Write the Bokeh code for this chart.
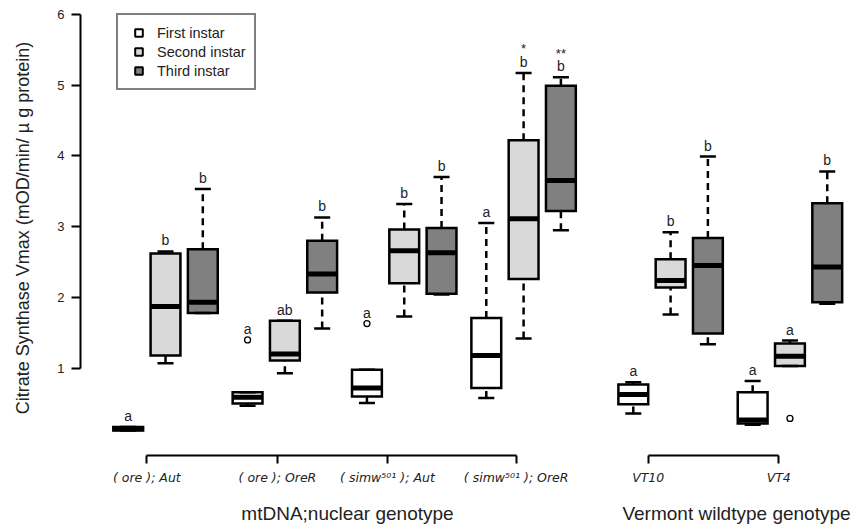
from bokeh.plotting import figure
from bokeh.layouts import row
from bokeh.models import ColumnDataSource, Range1d, FixedTicker, Legend, LegendItem
from bokeh.embed import file_html
from bokeh.resources import INLINE
from bokeh.core.properties import value

FONT = "Liberation Sans"
TICK_FONT = "DejaVu Sans"
instars = ["First instar", "Second instar", "Third instar"]
instar_fill = ["#ffffff", "#d9d9d9", "#808080"]

# ---- mtDNA;nuclear genotype panel ----
mt_labels = ["( ore ); Aut", "( ore ); OreR", "( simw\u2075\u2070\u00b9 ); Aut", "( simw\u2075\u2070\u00b9 ); OreR"]
mt_label_pos = [1.5, 5.0, 7.95, 11.4]
mt_pos = [1, 2, 3, 4.2, 5.2, 6.2, 7.4, 8.4, 9.4, 10.6, 11.6, 12.6]
mt_lo = [0.12, 1.07, 1.78, 0.47, 0.93, 1.56, 0.51, 1.73, 2.04, 0.58, 1.42, 2.95]
mt_q1 = [0.12, 1.18, 1.78, 0.50, 1.11, 2.07, 0.60, 2.20, 2.05, 0.72, 2.26, 3.22]
mt_med = [0.145, 1.87, 1.93, 0.59, 1.20, 2.33, 0.72, 2.66, 2.63, 1.18, 3.11, 3.65]
mt_q3 = [0.17, 2.62, 2.68, 0.66, 1.67, 2.80, 0.98, 2.96, 2.98, 1.71, 4.22, 4.99]
mt_hi = [0.17, 2.65, 3.53, 0.66, 1.67, 3.13, 0.98, 3.32, 3.70, 3.05, 5.17, 5.11]
mt_letters = ["a", "b", "b", "a", "ab", "b", "a", "b", "b", "a", "b", "b"]
mt_stars = ["", "", "", "", "", "", "", "", "", "", "*", "**"]
mt_out_pos = [4.2, 7.4]
mt_out_val = [1.40, 1.63]

# ---- Vermont wildtype genotype panel ----
vt_labels = ["VT10", "VT4"]
vt_label_pos = [1.4, 4.9]
vt_pos = [1, 2, 3, 4.2, 5.2, 6.2]
vt_lo = [0.36, 1.76, 1.34, 0.20, 1.03, 1.91]
vt_q1 = [0.49, 2.14, 1.49, 0.22, 1.03, 1.93]
vt_med = [0.63, 2.24, 2.45, 0.27, 1.17, 2.43]
vt_q3 = [0.77, 2.54, 2.84, 0.66, 1.35, 3.33]
vt_hi = [0.80, 2.92, 3.99, 0.82, 1.39, 3.78]
vt_letters = ["a", "b", "b", "a", "a", "b"]
vt_stars = ["", "", "", "", "", ""]
vt_out_pos = [5.2]
vt_out_val = [0.29]

BOX_W = 0.8
CAP_W = 0.43


def draw_panel(p, pos, lo, q1, med, q3, hi, letters, stars, out_pos, out_val):
    n = len(pos)
    fills = [instar_fill[i % 3] for i in range(n)]
    tops = []
    for i in range(n):
        vals = [hi[i]] + [v for xo, v in zip(out_pos, out_val) if xo == pos[i]]
        tops.append(max(vals))
    src = ColumnDataSource(dict(
        x=pos, lo=lo, q1=q1, med=med, q3=q3, hi=hi, fill=fills, top=tops,
        xl=[x - BOX_W / 2 for x in pos], xr=[x + BOX_W / 2 for x in pos],
        cl=[x - CAP_W / 2 for x in pos], cr=[x + CAP_W / 2 for x in pos],
        letter=letters, star=stars))
    p.segment(x0="x", y0="q3", x1="x", y1="hi", source=src, line_color="black",
              line_width=2.5, line_dash="7 5")
    p.segment(x0="x", y0="lo", x1="x", y1="q1", source=src, line_color="black",
              line_width=2.5, line_dash="7 5")
    p.vbar(x="x", width=BOX_W, bottom="q1", top="q3", source=src, fill_color="fill",
           line_color="black", line_width=2.5, line_join="miter")
    p.segment(x0="xl", y0="med", x1="xr", y1="med", source=src, line_color="black",
              line_width=5)
    p.segment(x0="cl", y0="hi", x1="cr", y1="hi", source=src, line_color="black", line_width=2.5)
    p.segment(x0="cl", y0="lo", x1="cr", y1="lo", source=src, line_color="black", line_width=2.5)
    osrc = ColumnDataSource(dict(x=out_pos, y=out_val))
    p.scatter(x="x", y="y", source=osrc, marker="circle", size=6, fill_color=None,
              line_color="black", line_width=1.3)
    p.text(x="x", y="top", text="letter", source=src, text_align="center",
           text_baseline="alphabetic", y_offset=-11, text_font=value(FONT),
           text_font_size="14px", text_color="#222222")
    p.text(x="x", y="top", text="star", source=src, text_align="center",
           text_baseline="alphabetic", y_offset=-24, text_font=value(FONT),
           text_font_size="13px", text_color="#222222")


def style_xaxis(p, ticks, labels, title):
    ax = p.xaxis[0]
    ax.ticker = FixedTicker(ticks=ticks)
    ax.major_label_overrides = {t: l for t, l in zip(ticks, labels)}
    ax.bounds = (min(ticks), max(ticks))
    ax.axis_line_width = 2
    ax.axis_line_color = "black"
    ax.major_tick_line_width = 2
    ax.major_tick_line_color = "black"
    ax.major_tick_in = 0
    ax.major_tick_out = 8
    ax.minor_tick_out = 0
    ax.minor_tick_in = 0
    ax.major_label_standoff = 6
    ax.major_label_text_font = TICK_FONT
    ax.major_label_text_font_style = "italic"
    ax.major_label_text_font_size = "12.5px"
    ax.major_label_text_color = "#222222"
    ax.axis_label = title
    ax.axis_label_standoff = 15
    ax.axis_label_text_font = FONT
    ax.axis_label_text_font_style = "normal"
    ax.axis_label_text_font_size = "19px"
    ax.axis_label_text_color = "#222222"


y_rng = Range1d(-0.233, 6.194)
H = 527
BOTTOM = 72

p1 = figure(width=614, height=H, x_range=Range1d(-0.279, 14.037), y_range=y_rng,
            output_backend="svg", toolbar_location=None,
            min_border_left=80, min_border_right=0, min_border_top=0, min_border_bottom=BOTTOM)
p2 = figure(width=244, height=H, x_range=Range1d(0.496, 7.038), y_range=y_rng,
            output_backend="svg", toolbar_location=None, y_axis_location=None,
            min_border_left=0, min_border_right=0, min_border_top=0, min_border_bottom=BOTTOM)

for p in (p1, p2):
    p.grid.visible = False
    p.outline_line_color = None
    p.background_fill_color = "white"
    p.border_fill_color = "white"

draw_panel(p1, mt_pos, mt_lo, mt_q1, mt_med, mt_q3, mt_hi, mt_letters, mt_stars, mt_out_pos, mt_out_val)
draw_panel(p2, vt_pos, vt_lo, vt_q1, vt_med, vt_q3, vt_hi, vt_letters, vt_stars, vt_out_pos, vt_out_val)

style_xaxis(p1, mt_label_pos, mt_labels, "mtDNA;nuclear genotype")
style_xaxis(p2, vt_label_pos, vt_labels, "Vermont wildtype genotype")

ya = p1.yaxis[0]
ya.ticker = FixedTicker(ticks=[1, 2, 3, 4, 5, 6])
ya.bounds = (1, 6)
ya.axis_line_width = 2
ya.axis_line_color = "black"
ya.major_tick_line_width = 2
ya.major_tick_line_color = "black"
ya.major_tick_in = 0
ya.major_tick_out = 9
ya.minor_tick_out = 0
ya.minor_tick_in = 0
ya.major_label_standoff = 7
ya.major_label_text_font = FONT
ya.major_label_text_font_size = "13px"
ya.major_label_text_color = "#222222"
ya.axis_label = "Citrate Synthase Vmax (mOD/min/ \u00b5 g protein)"
ya.axis_label_standoff = 21
ya.axis_label_text_font = FONT
ya.axis_label_text_font_style = "normal"
ya.axis_label_text_font_size = "18px"
ya.axis_label_text_color = "#222222"

# legend with square keys (proxy renderers hold no drawable point)
nan = float("nan")
items = []
for name, col in zip(instars, instar_fill):
    r = p1.scatter(x=[nan], y=[nan], marker="square", size=8, fill_color=col,
                   line_color="black", line_width=2)
    items.append(LegendItem(label=name, renderers=[r]))
legend = Legend(items=items, location=(36, 365), margin=0, padding=8, spacing=0,
                glyph_width=25, glyph_height=19, label_height=19, label_standoff=6,
                label_text_font=FONT, label_text_font_size="14.5px", label_text_color="#222222",
                border_line_color="black", border_line_width=2,
                background_fill_color="white", background_fill_alpha=1)
p1.add_layout(legend)

layout = row(p1, p2)
open("out.html", "w").write(file_html(layout, INLINE))
